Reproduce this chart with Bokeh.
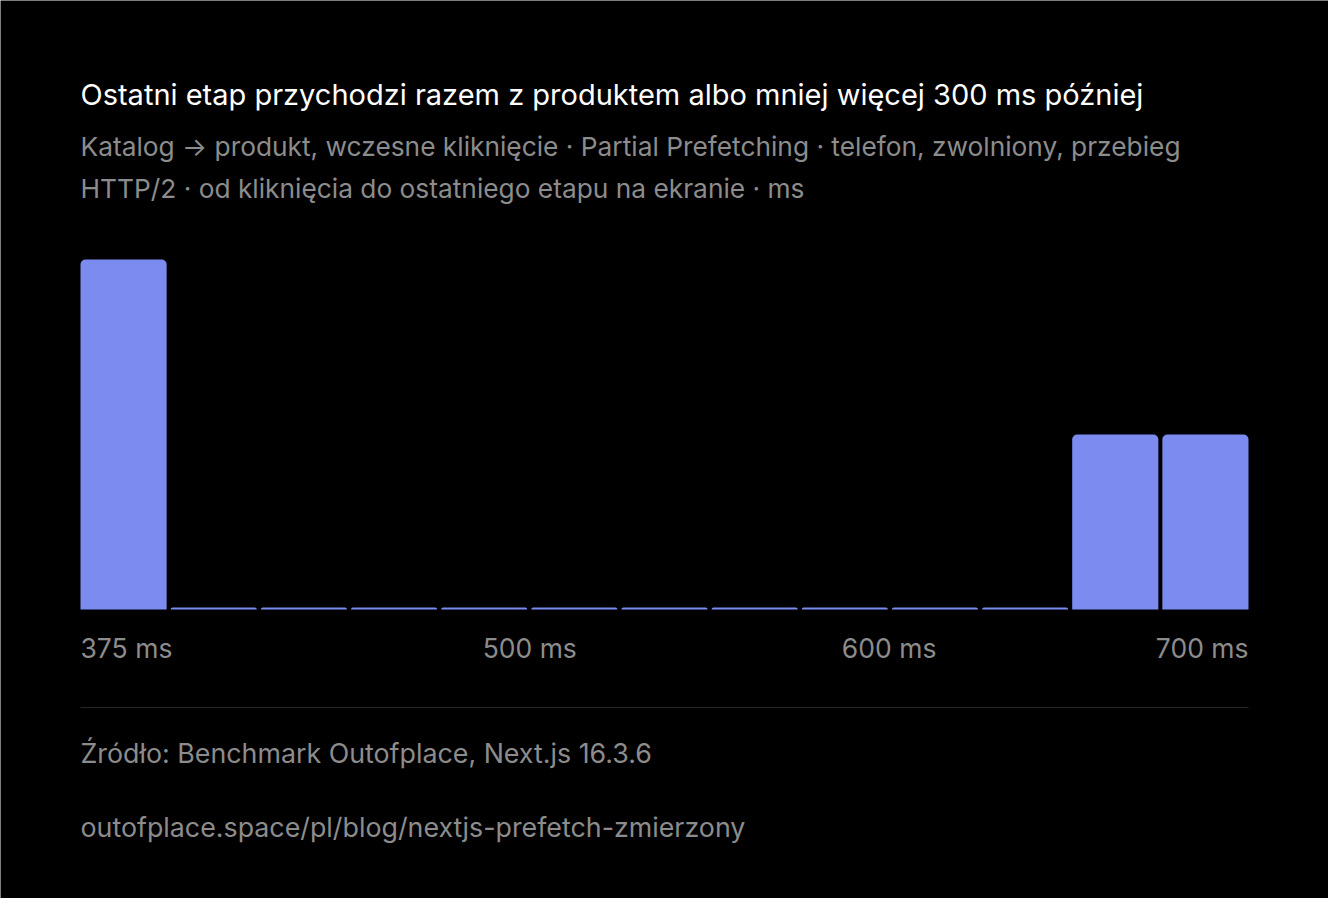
import numpy as np

from bokeh.models import ColumnDataSource, Label, Range1d
from bokeh.plotting import figure
from bokeh.embed import file_html
from bokeh.resources import INLINE

# histogram: click -> last stage on screen, ms
bin_edges = [375, 400, 425, 450, 475, 500, 525, 550, 575, 600, 625, 650, 675, 700]
counts = [2, 0, 0, 0, 0, 0, 0, 0, 0, 0, 0, 1, 1]

tick_values = [375, 500, 600, 700]
tick_labels = ["375 ms", "500 ms", "600 ms", "700 ms"]

title = "Ostatni etap przychodzi razem z produktem albo mniej więcej 300 ms później"
subtitle_lines = [
    "Katalog \u2192 produkt, wczesne kliknięcie · Partial Prefetching · telefon, zwolniony, przebieg",
    "HTTP/2 · od kliknięcia do ostatniego etapu na ekranie · ms",
]
source_note = "Źródło: Benchmark Outofplace, Next.js 16.3.6"
url_note = "outofplace.space/pl/blog/nextjs-prefetch-zmierzony"

# layout
W, H = 1328, 898
PAD = 80                      # left/right padding of the chart area
BASE = 289                    # baseline height above the bottom, px
PX_PER_UNIT = 175             # px per count
px_per_ms = (W - 2 * PAD) / (bin_edges[-1] - bin_edges[0])
FONT = "Inter"
BAR = "#7b8bf0"
GREY = "#8c8c8c"

x0 = bin_edges[0] - PAD / px_per_ms
x1 = bin_edges[-1] + PAD / px_per_ms
y0 = -BASE / PX_PER_UNIT
y1 = (H - BASE) / PX_PER_UNIT

p = figure(width=W, height=H, output_backend="svg", toolbar_location=None,
           x_range=Range1d(x0, x1), y_range=Range1d(y0, y1),
           x_axis_location=None, y_axis_location=None,
           min_border=0, tools="")
p.background_fill_color = "black"
p.border_fill_color = "black"
p.outline_line_color = None
p.grid.visible = False

# bars, 4px apart, flush with both ends
gap = 4 / px_per_ms
n = len(counts)
bw = (bin_edges[-1] - bin_edges[0] - (n - 1) * gap) / n
left = np.array([bin_edges[0] + i * (bw + gap) for i in range(n)])
shown = np.maximum(np.array(counts, dtype=float), 2 / PX_PER_UNIT)  # empty bins still show a 2px stub
src = ColumnDataSource(dict(left=left, right=left + bw, top=shown, count=counts))
p.quad(left="left", right="right", bottom=0, top="top", source=src,
       fill_color=BAR, line_color=None, border_radius=(5, 5, 0, 0))

# x tick labels
for i, (v, t) in enumerate(zip(tick_values, tick_labels)):
    align = "left" if i == 0 else ("right" if i == len(tick_values) - 1 else "center")
    p.add_layout(Label(x=v, y=BASE - 38, y_units="screen", text=t, text_align=align,
                       text_baseline="middle", text_font=FONT, text_font_size="26.5px",
                       text_color=GREY))

# separator
p.segment(x0=bin_edges[0], x1=bin_edges[-1], y0=-98 / PX_PER_UNIT, y1=-98 / PX_PER_UNIT,
          line_color="#262626", line_width=1)

# header / footer texts
def txt(s, y, color, size):
    p.add_layout(Label(x=PAD, y=y, x_units="screen", y_units="screen", text=s,
                       text_align="left", text_baseline="middle", text_font=FONT,
                       text_font_size=size, text_color=color))

txt(title, 804, "white", "29px")
txt(subtitle_lines[0], 752, GREY, "26.3px")
txt(subtitle_lines[1], 710, GREY, "26.3px")
txt(source_note, 146, GREY, "26.8px")
txt(url_note, 72, GREY, "26.8px")

open("out.html", "w").write(file_html(p, INLINE))
